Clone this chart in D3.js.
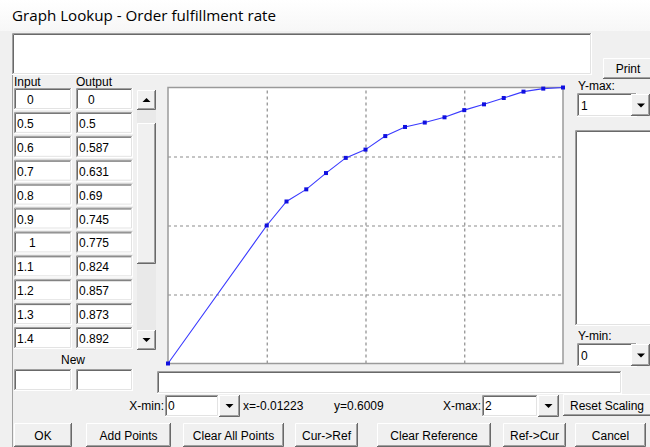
<!DOCTYPE html>
<html><head><meta charset="utf-8">
<script src="https://cdn.jsdelivr.net/npm/d3@7"></script>
<style>
html,body{margin:0;padding:0;background:#f0f0f0;}
svg{display:block;}
text{font-family:"Liberation Sans",Arial,sans-serif;font-size:12px;fill:#000;}
</style></head><body>
<svg id="c" width="650" height="447"></svg>
<script>
// ---- data ----
const inputs  = [0, 0.5, 0.6, 0.7, 0.8, 0.9, 1, 1.1, 1.2, 1.3, 1.4, 1.5, 1.6, 1.7, 1.8, 1.9, 2];
const outputs = [0, 0.5, 0.587, 0.631, 0.69, 0.745, 0.775, 0.824, 0.857, 0.873, 0.892, 0.918, 0.939, 0.962, 0.985, 0.996, 1];
const xGridTicks = [0.5, 1, 1.5];
const yGridTicks = [0.25, 0.5, 0.75];
const xDomain = [0, 2];
const yDomain = [0, 1];
const titleText = "Graph Lookup - Order fulfillment rate";
const buttonLabels = ["OK", "Add Points", "Clear All Points", "Cur->Ref", "Clear Reference", "Ref->Cur", "Cancel"];

const svg = d3.select("#c");

// background
svg.append("rect").attr("width",650).attr("height",447).attr("fill","#f0f0f0");
const grad = svg.append("defs").append("linearGradient").attr("id","tg").attr("x1",0).attr("x2",0).attr("y1",0).attr("y2",1);
grad.append("stop").attr("offset","0").attr("stop-color","#ffffff");
grad.append("stop").attr("offset","1").attr("stop-color","#f7f7f7");
svg.append("rect").attr("width",650).attr("height",31).attr("fill","url(#tg)");
svg.append("text").attr("x",12).attr("y",21).text(titleText)
  .style("font-family","'Open Sans','Noto Sans',sans-serif").style("font-size","14px").attr("fill","#1b1b2b")
  .attr("textLength",264).attr("lengthAdjust","spacingAndGlyphs");

function sunken(x,y,w,h,fill){
  const g = svg.append("g");
  g.append("rect").attr("x",x).attr("y",y).attr("width",w).attr("height",h).attr("fill",fill||"#fff");
  g.append("path").attr("d",`M${x+0.5},${y+h}V${y+0.5}H${x+w}`).attr("stroke","#a0a0a0").attr("fill","none");
  g.append("path").attr("d",`M${x+1.5},${y+h-1}V${y+1.5}H${x+w-1}`).attr("stroke","#696969").attr("fill","none");
  g.append("path").attr("d",`M${x+w-0.5},${y}V${y+h-0.5}H${x}`).attr("stroke","#ffffff").attr("fill","none");
  g.append("path").attr("d",`M${x+w-1.5},${y+1}V${y+h-1.5}H${x+1}`).attr("stroke","#e3e3e3").attr("fill","none");
  return g;
}
function raised(x,y,w,h,label,tx){
  const g = svg.append("g");
  g.append("rect").attr("x",x).attr("y",y).attr("width",w).attr("height",h).attr("fill","#f0f0f0");
  g.append("path").attr("d",`M${x+0.5},${y+h}V${y+0.5}H${x+w}`).attr("stroke","#ffffff").attr("fill","none");
  g.append("path").attr("d",`M${x+w-0.5},${y}V${y+h-0.5}H${x}`).attr("stroke","#696969").attr("fill","none");
  g.append("path").attr("d",`M${x+w-1.5},${y+1}V${y+h-1.5}H${x+1}`).attr("stroke","#a0a0a0").attr("fill","none");
  if(label!==undefined){
    g.append("text").attr("x",tx!==undefined?tx:x+w/2).attr("y",y+h/2+4.5)
      .attr("text-anchor",tx!==undefined?"start":"middle").text(label);
  }
  return g;
}
function arrow(cx,cy,up){
  const d = up ? `M${cx-4},${cy+2}L${cx+4},${cy+2}L${cx},${cy-2}Z` : `M${cx-4},${cy-2}L${cx+4},${cy-2}L${cx},${cy+2}Z`;
  svg.append("path").attr("d",d).attr("fill","#000");
}

// top text box
sunken(12,33,580,42);
// Print button
raised(603,58,50,21,"Print");

// left panel edge
svg.append("line").attr("x1",12.5).attr("x2",12.5).attr("y1",75).attr("y2",447).attr("stroke","#a0a0a0");

// Table labels
svg.append("text").attr("x",14).attr("y",86).text("Input");
svg.append("text").attr("x",76).attr("y",86).text("Output");

const fmt = v => String(+v.toFixed(3));
const rows = inputs.slice(0,11).map((v,i)=>({inp:v,out:outputs[i]}));
rows.forEach((r,i)=>{
  const y = 88 + i*23.9;
  sunken(14,y,58,22);
  sunken(76,y,57,22);
  const inCentered = (r.inp===0 || r.inp===1);
  svg.append("text").attr("x", inCentered ? (r.inp===0?27:29) : 17).attr("y",y+16).text(fmt(r.inp));
  svg.append("text").attr("x", r.out===0 ? 88 : 79).attr("y",y+16).text(fmt(r.out));
});

// scrollbar
svg.append("rect").attr("x",137).attr("y",90).attr("width",19).attr("height",259).attr("fill","#e9e9e9");
raised(137,90,19,20);
arrow(146.5,100,true);
raised(137,123,19,141);
raised(137,330,19,20);
arrow(146.5,340,false);

// New
svg.append("text").attr("x",73).attr("y",364).attr("text-anchor","middle").text("New");
sunken(14,369,58,22);
sunken(76,369,57,22);

// right side controls
svg.append("text").attr("x",578).attr("y",90).text("Y-max:");
sunken(577,93,60,24);
svg.append("text").attr("x",581).attr("y",110).text("1");
raised(631,94,19,22); arrow(641,105.5,false);
sunken(575,130,80,196);
svg.append("text").attr("x",578).attr("y",340).text("Y-min:");
sunken(577,343,60,24);
svg.append("text").attr("x",581).attr("y",360).text("0");
raised(631,344,19,22); arrow(641,355.5,false);

// bottom text box
sunken(157,371,465,23);

// plot
const x = d3.scaleLinear().domain(xDomain).range([168,563]);
const y = d3.scaleLinear().domain(yDomain).range([363.5,87.5]);
svg.append("rect").attr("x",168).attr("y",87.5).attr("width",395).attr("height",276).attr("fill","#fff");

const gx = svg.append("g").attr("transform","translate(0,363.5)")
  .call(d3.axisBottom(x).tickValues(xGridTicks).tickSize(-276).tickFormat(""));
gx.select(".domain").remove();
gx.selectAll("line").attr("stroke","#8c8c8c").attr("stroke-dasharray","3,3").attr("stroke-width",1.2);
const gy = svg.append("g").attr("transform","translate(168,0)")
  .call(d3.axisLeft(y).tickValues(yGridTicks).tickSize(-395).tickFormat(""));
gy.select(".domain").remove();
gy.selectAll("line").attr("stroke","#8c8c8c").attr("stroke-dasharray","3,3").attr("stroke-width",1.2);

svg.append("rect").attr("x",168).attr("y",87.5).attr("width",395).attr("height",276)
  .attr("fill","none").attr("stroke","#9a9a9a").attr("stroke-width",1.5);

const pts = inputs.map((v,i)=>[v,outputs[i]]);
svg.append("path").datum(pts)
  .attr("d",d3.line().x(d=>x(d[0])).y(d=>y(d[1])))
  .attr("fill","none").attr("stroke","#3a3aff").attr("stroke-width",1.1);
svg.selectAll(".pt").data(pts).enter().append("rect")
  .attr("x",d=>x(d[0])-2).attr("y",d=>y(d[1])-2).attr("width",4).attr("height",4)
  .attr("fill","#1010e0");

// bottom row 1
svg.append("text").attr("x",164).attr("y",410).attr("text-anchor","end").text("X-min:");
sunken(165,395,54,22);
svg.append("text").attr("x",168).attr("y",410).text("0");
raised(219,395,21,22); arrow(229.5,406,false);
svg.append("text").attr("x",243).attr("y",410).text("x=-0.01223");
svg.append("text").attr("x",334).attr("y",410).text("y=0.6009");
svg.append("text").attr("x",481).attr("y",410).attr("text-anchor","end").text("X-max:");
sunken(482,395,56,22);
svg.append("text").attr("x",485).attr("y",410).text("2");
raised(538,395,21,22); arrow(548.5,406,false);
raised(563,394,90,22,"Reset Scaling",570);

// bottom buttons
const btnX = [14, 86, 183, 295, 377, 503, 575];
const btnW = [58, 85, 101, 63, 114, 63, 71];
buttonLabels.forEach((b,i)=>raised(btnX[i],423,btnW[i],24,b));
</script>
</body></html>
